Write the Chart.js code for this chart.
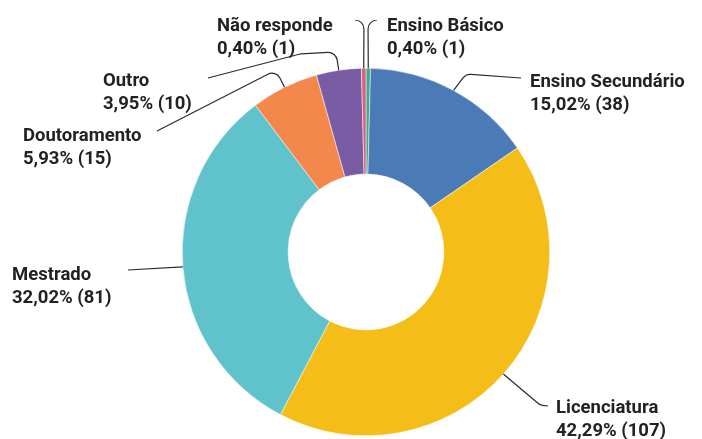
<!DOCTYPE html>
<html>
<head>
<meta charset="utf-8">
<script src="https://cdn.jsdelivr.net/npm/chart.js@4.4.1/dist/chart.umd.min.js"></script>
<style>
  body { margin: 0; background: #fff; }
  canvas { display: block; }
</style>
</head>
<body>
<canvas id="grafico" width="702" height="439"></canvas>
<script>
// Habilitações literárias dos inquiridos
const categorias = ['Ensino Básico', 'Ensino Secundário', 'Licenciatura', 'Mestrado', 'Doutoramento', 'Outro', 'Não responde'];
const respostas = [1, 38, 107, 81, 15, 10, 1];
const cores = ['#3aab8c', '#4a7bb7', '#f5bd18', '#60c3cb', '#f4884c', '#7a5ca5', '#d8607f'];

// Posição dos rótulos (x à esquerda, linha de base da 1.ª linha) e percurso das linhas de chamada
const rotulos = [
  { x: 387, y: 31, guia: [[368, 20], [377, 20]] },
  { x: 530, y: 87, guia: [[466, 74], [521, 78]] },
  { x: 556, y: 413, guia: [[540, 405], [548, 406]] },
  { x: 12, y: 280, guia: [[128, 270]] },
  { x: 23, y: 141, guia: [[276, 70], [157, 131]] },
  { x: 103, y: 86, guia: [[336, 52], [300, 54], [208, 78]] },
  { x: 217, y: 31, guia: [[364, 20], [355, 20]] }
];

const total = respostas.reduce((a, b) => a + b, 0);
function pct(v) {
  return (v / total * 100).toFixed(2).replace('.', ',') + '%';
}

// linhas de chamada + texto dos rótulos
const rotulosPlugin = {
  id: 'rotulos',
  afterDatasetsDraw(chart) {
    const ctx = chart.ctx;
    const meta = chart.getDatasetMeta(0);
    ctx.save();
    meta.data.forEach((arc, i) => {
      const r = rotulos[i];
      const p = arc.getProps(['x', 'y', 'startAngle', 'endAngle', 'outerRadius'], true);
      const meio = (p.startAngle + p.endAngle) / 2;
      const x0 = p.x + Math.cos(meio) * p.outerRadius;
      const y0 = p.y + Math.sin(meio) * p.outerRadius;
      const pts = [[x0, y0]].concat(r.guia);
      ctx.beginPath();
      ctx.moveTo(pts[0][0], pts[0][1]);
      for (let k = 1; k < pts.length - 1; k++) {
        ctx.arcTo(pts[k][0], pts[k][1], pts[k + 1][0], pts[k + 1][1], 9);
      }
      ctx.lineTo(pts[pts.length - 1][0], pts[pts.length - 1][1]);
      ctx.strokeStyle = '#2b2b2b';
      ctx.lineWidth = 1.2;
      ctx.stroke();

      ctx.fillStyle = '#222';
      ctx.font = 'bold 18.5px Roboto';
      ctx.textAlign = 'left';
      ctx.textBaseline = 'alphabetic';
      ctx.fillText(categorias[i], r.x, r.y);
      ctx.fillText(pct(respostas[i]) + ' (' + respostas[i] + ')', r.x, r.y + 23);
    });
    ctx.restore();
  }
};

new Chart(document.getElementById('grafico'), {
  type: 'doughnut',
  data: {
    labels: categorias,
    datasets: [{
      data: respostas,
      backgroundColor: cores,
      borderColor: '#fff',
      borderWidth: 0.5
    }]
  },
  options: {
    responsive: false,
    animation: false,
    cutout: '42.4%',
    layout: { padding: { left: 182, right: 152, top: 68, bottom: 3 } },
    plugins: {
      legend: { display: false },
      tooltip: { enabled: false }
    }
  },
  plugins: [rotulosPlugin]
});
</script>
</body>
</html>
